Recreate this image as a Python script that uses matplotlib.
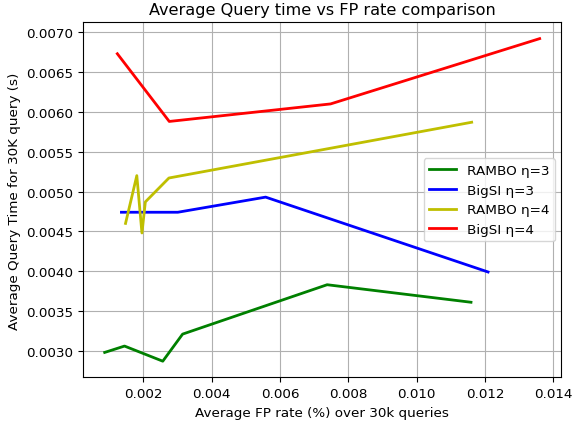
import numpy as np
import matplotlib.pyplot as plt

# FP rate (%) and query time (s)
rambo3_fp = [0.00087, 0.00145, 0.00257, 0.00315, 0.00738, 0.01159]
rambo3_t = [0.00298, 0.00306, 0.00287, 0.00321, 0.00383, 0.00361]

bigsi3_fp = [0.00136, 0.00301, 0.00558, 0.01209]
bigsi3_t = [0.00474, 0.00474, 0.00493, 0.00399]

rambo4_fp = [0.00148, 0.00181, 0.00196, 0.00206, 0.00275, 0.01161]
rambo4_t = [0.00460, 0.00520, 0.00448, 0.00487, 0.00517, 0.00587]

bigsi4_fp = [0.00124, 0.00276, 0.00748, 0.01360]
bigsi4_t = [0.00673, 0.00588, 0.00610, 0.00692]

plt.rcParams['font.size'] = 9.7

fig = plt.figure(figsize=(5.72, 4.27), dpi=100)
ax = fig.add_subplot(111)
fig.subplots_adjust(left=0.145, right=0.9815, top=0.945, bottom=0.114)

ax.plot(rambo3_fp, rambo3_t, 'g', linewidth=2, label='RAMBO η=3')
ax.plot(bigsi3_fp, bigsi3_t, 'b', linewidth=2, label='BigSI η=3')
ax.plot(rambo4_fp, rambo4_t, 'y', linewidth=2, label='RAMBO η=4')
ax.plot(bigsi4_fp, bigsi4_t, 'r', linewidth=2, label='BigSI η=4')

ax.set_xlabel('Average FP rate (%) over 30k queries')
ax.set_ylabel('Average Query Time for 30K query (s)')
ax.set_title('Average Query time vs FP rate comparison', fontsize=11.6)
ax.legend(loc='center right')
ax.grid(True)

fig.savefig('out.png', dpi=100)
